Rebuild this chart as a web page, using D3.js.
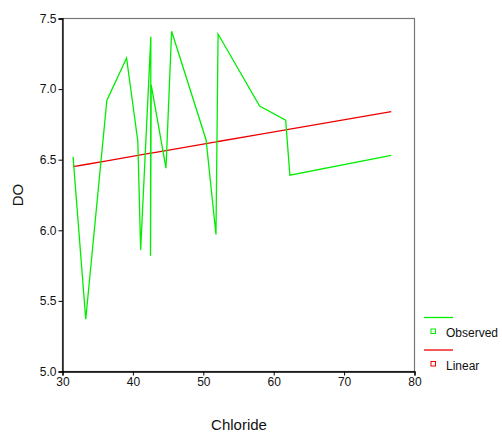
<!DOCTYPE html>
<html>
<head>
<meta charset="utf-8">
<script src="https://cdn.jsdelivr.net/npm/d3@7"></script>
<style>
body { margin: 0; background: #fff; }
svg { display: block; font-family: "Liberation Sans", Arial, sans-serif; }
</style>
</head>
<body>
<svg id="chart" width="502" height="435"></svg>
<script>
// Observed series (Chloride vs DO), in data order
const chloride = [31.5, 33.3, 36.3, 39.1, 40.7, 41.1, 42.55, 42.5, 42.6, 44.7, 45.5, 50.4, 51.8, 52.1, 58.0, 61.7, 62.3, 76.7];
const doValues = [6.52, 5.37, 6.92, 7.22, 6.63, 5.86, 7.37, 5.82, 7.03, 6.44, 7.41, 6.64, 5.97, 7.39, 6.88, 6.78, 6.39, 6.53];
// Linear fit values at sorted chloride
const fitX = [31.5, 33.3, 36.3, 39.1, 40.7, 41.1, 42.5, 42.55, 42.6, 44.7, 45.5, 50.4, 51.8, 52.1, 58.0, 61.7, 62.3, 76.7];
const fitY = [6.451, 6.466, 6.492, 6.516, 6.530, 6.534, 6.546, 6.546, 6.547, 6.565, 6.572, 6.614, 6.626, 6.629, 6.680, 6.712, 6.717, 6.841];
const xTicks = [30, 40, 50, 60, 70, 80];
const yTicks = [5.0, 5.5, 6.0, 6.5, 7.0, 7.5];
const legendItems = ["Observed", "Linear"];
const legendColors = ["#00ee00", "#ee0000"];

const svg = d3.select("#chart");
const x = d3.scaleLinear().domain([30, 80]).range([62.5, 414.5]);
const y = d3.scaleLinear().domain([5.0, 7.5]).range([371.5, 18.5]);

// frame
svg.append("rect").attr("x", 62.5).attr("y", 18.5).attr("width", 352).attr("height", 353)
  .attr("fill", "none").attr("stroke", "#777").attr("stroke-width", 1.2);

const xAxis = svg.append("g").attr("transform", "translate(0,371.5)")
  .call(d3.axisBottom(x).tickValues(xTicks).tickSize(4).tickPadding(2).tickFormat(d3.format("d")));
const yAxis = svg.append("g").attr("transform", "translate(62.5,0)")
  .call(d3.axisLeft(y).tickValues(yTicks).tickSize(4).tickPadding(2).tickFormat(d3.format(".1f")));
[xAxis, yAxis].forEach(a => {
  a.select(".domain").attr("stroke", "#000").attr("stroke-width", 1.3);
  a.selectAll(".tick line").attr("stroke", "#000");
  a.selectAll("text").attr("font-size", 12).attr("fill", "#111")
    .attr("font-family", "'Liberation Sans', Arial, sans-serif");
});

const line = d3.line().x(d => x(d[0])).y(d => y(d[1]));
svg.append("path").datum(d3.zip(fitX, fitY)).attr("d", line)
  .attr("fill", "none").attr("stroke", legendColors[1]).attr("stroke-width", 1.3);
svg.append("path").datum(d3.zip(chloride, doValues)).attr("d", line)
  .attr("fill", "none").attr("stroke", legendColors[0]).attr("stroke-width", 1.3)
  .attr("stroke-linejoin", "miter");

// axis titles
svg.append("text").attr("x", 239).attr("y", 430).attr("text-anchor", "middle")
  .attr("font-size", 15).attr("fill", "#111").text("Chloride");
svg.append("text").attr("transform", "translate(23,195) rotate(-90)").attr("text-anchor", "middle")
  .attr("font-size", 15).attr("fill", "#111").text("DO");

// legend
const lg = svg.append("g");
legendItems.forEach((name, i) => {
  const oy = 317.5 + i * 32.5;
  lg.append("line").attr("x1", 424).attr("x2", 453).attr("y1", oy).attr("y2", oy)
    .attr("stroke", legendColors[i]).attr("stroke-width", 1.3);
  lg.append("rect").attr("x", 431).attr("y", oy + 11.5).attr("width", 4.5).attr("height", 4.5)
    .attr("fill", "none").attr("stroke", legendColors[i]).attr("stroke-width", 1);
  lg.append("text").attr("x", 446).attr("y", oy + 19.5).attr("font-size", 12)
    .attr("fill", "#111").text(name);
});
</script>
</body>
</html>
